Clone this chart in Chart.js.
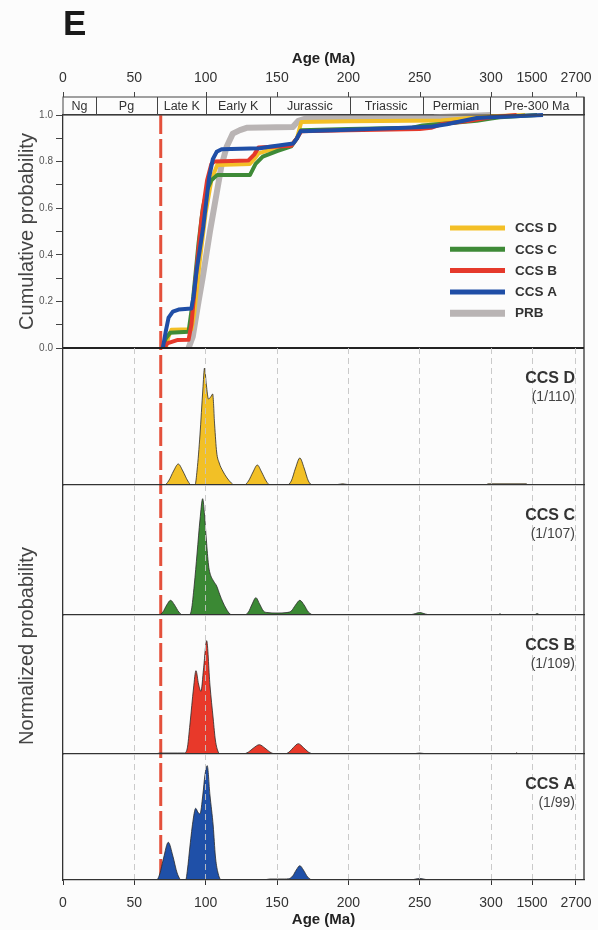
<!DOCTYPE html>
<html>
<head>
<meta charset="utf-8">
<title>Detrital zircon age distributions</title>
<script src="https://cdn.jsdelivr.net/npm/chart.js@4.4.1/dist/chart.umd.min.js"></script>
<style>
  html, body { margin: 0; padding: 0; background: #fcfcfc; }
  #fig { position: relative; width: 598px; height: 930px; background: #fcfcfc; }
  #fig canvas { position: absolute; left: 0; top: 0; }
</style>
</head>
<body>
<div id="fig">
  <canvas id="cum" width="598" height="930"></canvas>
  <canvas id="pD" width="598" height="930"></canvas>
  <canvas id="pC" width="598" height="930"></canvas>
  <canvas id="pB" width="598" height="930"></canvas>
  <canvas id="pA" width="598" height="930"></canvas>
</div>
<script>
// ---- data ----
var ageTicks = [0, 50, 100, 150, 200, 250, 300, 1500, 2700];
var periodNames = ['Ng', 'Pg', 'Late K', 'Early K', 'Jurassic', 'Triassic', 'Permian', 'Pre-300 Ma'];
var periodEdges = [0, 23, 66, 100.5, 145, 201, 252, 299, 2918];
var maxDepositAge = 68.5;

var sampleNames = ['CCS D', 'CCS C', 'CCS B', 'CCS A', 'PRB'];
var sampleCounts = ['(1/110)', '(1/107)', '(1/109)', '(1/99)'];

// cumulative probability: [age Ma, probability]
var cumD = [[72,0],[74,0.05],[76,0.078],[90,0.08],[92,0.15],[96,0.38],[100,0.58],[104,0.72],[108,0.785],[131,0.79],[134,0.81],[137,0.835],[145,0.85],[160,0.87],[164,0.9],[167,0.97],[200,0.973],[265,0.976],[290,0.99],[300,0.995],[1300,1]];
var cumC = [[70,0],[72,0.04],[75,0.065],[88,0.07],[91,0.2],[95,0.45],[98,0.6],[101,0.68],[104,0.72],[108,0.742],[131,0.742],[135,0.79],[140,0.821],[150,0.845],[160,0.865],[164,0.9],[167,0.935],[200,0.94],[245,0.945],[252,0.955],[290,0.975],[300,0.985],[560,0.99],[1640,1]];
var cumB = [[71,0],[73,0.02],[80,0.034],[88,0.035],[90,0.1],[93,0.3],[97,0.55],[101,0.72],[104,0.79],[106,0.8],[130,0.805],[134,0.83],[137,0.86],[160,0.868],[164,0.9],[167,0.93],[200,0.935],[250,0.94],[258,0.945],[265,0.96],[285,0.975],[300,0.99],[1050,1]];
var cumA = [[70,0],[72,0.07],[74,0.13],[77,0.156],[81,0.165],[90,0.17],[91.5,0.22],[93.7,0.335],[98.3,0.52],[102.5,0.735],[105,0.81],[107.7,0.842],[111.2,0.853],[138,0.857],[146,0.865],[161.4,0.878],[164,0.9],[166.5,0.93],[190,0.935],[240,0.945],[259,0.951],[269,0.96],[290,0.987],[300,0.99],[1800,1]];
var cumPRB = [[88,0],[91,0.05],[95,0.2],[98,0.306],[103,0.5],[107.7,0.664],[111,0.78],[114.7,0.864],[119,0.92],[124,0.935],[128.7,0.945],[161,0.948],[165,0.975],[170,0.985],[200,0.987],[260,0.99],[300,1]];

// normalized probability density: [age Ma, relative height]
var pdpD = [[0,0],[71,0],[74,0.04],[77.5,0.14],[80.8,0.21],[84,0.14],[87.5,0.04],[90,0],
  [92.5,0],[94,0.15],[96,0.5],[98,0.95],[99.2,1.17],[100.5,1.0],[102,0.86],[103.5,0.88],[104.9,0.91],[106.3,0.6],[107.7,0.33],[109.5,0.22],[112,0.14],[115,0.07],[118,0.02],[120,0],
  [127,0],[130,0.04],[133.2,0.13],[136.2,0.2],[139.2,0.13],[142.4,0.04],[145,0],
  [157,0],[160,0.04],[163,0.17],[166,0.27],[169,0.17],[172,0.04],[175,0],
  [190,0],[196,0.012],[202,0],
  [296,0],[298,0.012],[1340,0.012],[1350,0],[2918,0]];
var pdpC = [[0,0],[67,0],[70,0.03],[72.7,0.1],[75.4,0.147],[78.2,0.1],[81.2,0.03],[84,0],
  [88,0],[90,0.05],[92,0.3],[94,0.62],[96,0.95],[97.9,1.163],[99.2,1.0],[100.5,0.75],[102,0.5],[103,0.42],[105.5,0.34],[107.7,0.29],[110,0.2],[112,0.13],[114.5,0.06],[117,0.01],[119,0],
  [127,0],[130,0.03],[132.6,0.11],[135.2,0.173],[137.8,0.11],[140.5,0.04],[143,0.025],[150,0.02],[157,0.025],[160,0.04],[163,0.1],[166,0.147],[169,0.1],[172,0.03],[176,0],
  [242,0],[246,0.01],[250,0.025],[254,0.01],[258,0],
  [540,0],[563,0.015],[590,0],
  [1560,0],[1640,0.015],[1720,0],[2918,0]];
var pdpB = [[0,0],[64,0],[68,0.01],[80,0.01],[85,0.01],[87,0.05],[89,0.3],[91.5,0.66],[93.2,0.833],[95,0.7],[96.7,0.627],[98.5,0.85],[100.7,1.133],[103,0.69],[105.3,0.35],[106.8,0.14],[108.8,0.02],[110,0],
  [126,0],[130,0.02],[133.5,0.06],[137.6,0.093],[141.5,0.06],[145,0.02],[149,0],
  [155,0],[158.5,0.02],[161.5,0.065],[164.9,0.103],[168.5,0.065],[172,0.02],[176,0],
  [244,0],[250,0.01],[256,0],
  [1000,0],[1050,0.012],[1100,0],[2918,0]];
var pdpA = [[0,0],[65.5,0],[67.8,0.06],[70.5,0.22],[73.8,0.377],[77,0.24],[80,0.07],[83,0],
  [86,0],[87.2,0.1],[89,0.34],[91.3,0.61],[93,0.717],[94.5,0.68],[96,0.66],[98,0.85],[99.5,1.05],[101.1,1.143],[103,0.85],[105.3,0.54],[106.8,0.24],[108.5,0.08],[111,0],
  [140,0],[145,0.01],[155,0.01],[158,0.012],[161,0.04],[163.5,0.1],[166,0.143],[168.5,0.1],[171.5,0.03],[175,0],
  [243,0],[250,0.015],[257,0],[2918,0]];

// ---- layout & style ----
var FONT = "'Liberation Sans', Arial, Helvetica, sans-serif";
var W = 598, H = 930, PLOT_L = 63, PLOT_R = 584;
var CUM_TOP = 115, CUM_BOT = 348, TITLE_H = 43;
var panelTops = [348, 485, 615, 754];
var panelBots = [485, 615, 754, 880];
var lineColors = ['#f3bf26', '#3e8a37', '#e5392b', '#1f4ea6', '#b9b4b4'];
var fillColors = ['#f2c026', '#3b8934', '#e8392a', '#1f50a8'];

Chart.defaults.font.family = FONT;
Chart.defaults.color = '#333';
Chart.defaults.animation = false;
Chart.defaults.events = [];

// broken age axis: 0-300 Ma linear, then compressed 300-1500 and 1500-2700
var AGE_BREAKS = [0, 300, 1500, 2700, 2918];
var AGE_FRACS = [0, 0.8215, 0.9002, 0.9846, 1];
function ageToFrac(v) {
  for (var i = 1; i < AGE_BREAKS.length; i++) {
    if (v <= AGE_BREAKS[i] || i === AGE_BREAKS.length - 1) {
      var a = AGE_BREAKS[i - 1], b = AGE_BREAKS[i];
      return AGE_FRACS[i - 1] + (v - a) / (b - a) * (AGE_FRACS[i] - AGE_FRACS[i - 1]);
    }
  }
}
function fracToAge(f) {
  for (var i = 1; i < AGE_FRACS.length; i++) {
    if (f <= AGE_FRACS[i] || i === AGE_FRACS.length - 1) {
      var a = AGE_FRACS[i - 1], b = AGE_FRACS[i];
      return AGE_BREAKS[i - 1] + (f - a) / (b - a) * (AGE_BREAKS[i] - AGE_BREAKS[i - 1]);
    }
  }
}
class AgeScale extends Chart.LinearScale {
  buildTicks() { return ageTicks.map(function (v) { return { value: v }; }); }
  getPixelForValue(v) { return this.getPixelForDecimal(ageToFrac(v)); }
  getValueForPixel(p) { return fracToAge(this.getDecimalForPixel(p)); }
}
AgeScale.id = 'age';
AgeScale.defaults = Chart.LinearScale.defaults;
Chart.register(AgeScale);

function toXY(pairs) {
  return pairs.map(function (p) { return { x: p[0], y: p[1] }; });
}

// fixed axis sizes so every panel shares the same plot rectangle
function fixSize(prop, size) {
  return function (s) {
    s[prop] = size;
    s.paddingLeft = s.paddingRight = s.paddingTop = s.paddingBottom = 0;
  };
}

// ---- cumulative panel ----
var cumDecor = {
  id: 'cumDecor',
  beforeDatasetsDraw: function (chart) {
    var ctx = chart.ctx, a = chart.chartArea;
    var x = chart.scales.x.getPixelForValue(maxDepositAge);
    ctx.save();
    ctx.strokeStyle = '#e4503b';
    ctx.lineWidth = 3;
    ctx.setLineDash([19, 5]);
    ctx.beginPath();
    ctx.moveTo(x, a.top);
    ctx.lineTo(x, panelBots[3] - 4);
    ctx.stroke();
    ctx.restore();
  },
  afterDraw: function (chart) {
    var ctx = chart.ctx, a = chart.chartArea, xs = chart.scales.x;
    var bandTop = a.top - 18;
    ctx.save();
    // period band
    ctx.strokeStyle = '#444';
    ctx.lineWidth = 1;
    ctx.strokeRect(a.left, bandTop, a.right - a.left, a.top - bandTop);
    ctx.beginPath();
    for (var i = 1; i < periodEdges.length - 1; i++) {
      var px = Math.round(xs.getPixelForValue(periodEdges[i])) + 0.5;
      ctx.moveTo(px, bandTop);
      ctx.lineTo(px, a.top);
    }
    ageTicks.forEach(function (t) {
      var px = Math.round(xs.getPixelForValue(t)) + 0.5;
      ctx.moveTo(px, bandTop - 5);
      ctx.lineTo(px, bandTop);
    });
    ctx.stroke();
    ctx.fillStyle = '#333';
    ctx.font = '12.5px ' + FONT;
    ctx.textAlign = 'center';
    ctx.textBaseline = 'middle';
    for (var j = 0; j < periodNames.length; j++) {
      var cx = (xs.getPixelForValue(periodEdges[j]) + xs.getPixelForValue(periodEdges[j + 1])) / 2;
      ctx.fillText(periodNames[j], cx, bandTop + 9.5);
    }
    // frame
    ctx.lineWidth = 1.3;
    ctx.strokeStyle = '#333';
    ctx.beginPath();
    ctx.moveTo(a.right, bandTop);
    ctx.lineTo(a.right, a.bottom);
    ctx.stroke();
    ctx.lineWidth = 2;
    ctx.strokeStyle = '#222';
    ctx.beginPath();
    ctx.moveTo(a.left, a.bottom);
    ctx.lineTo(a.right, a.bottom);
    ctx.stroke();
    // legend
    ctx.textAlign = 'left';
    ctx.font = 'bold 13.5px ' + FONT;
    chart.data.datasets.forEach(function (ds, k) {
      var y = 228 + k * 21.3;
      ctx.strokeStyle = ds.borderColor;
      ctx.lineWidth = ds.borderWidth + 1;
      ctx.beginPath();
      ctx.moveTo(450, y);
      ctx.lineTo(505, y);
      ctx.stroke();
      ctx.fillStyle = '#333';
      ctx.fillText(ds.label, 515, y + 0.5);
    });
    ctx.restore();
  }
};

var cumSeries = [cumD, cumC, cumB, cumA, cumPRB];
var drawOrder = [3, 2, 1, 0, 4];
new Chart(document.getElementById('cum'), {
  type: 'line',
  data: {
    datasets: cumSeries.map(function (s, i) {
      return {
        label: sampleNames[i],
        data: toXY(s),
        borderColor: lineColors[i],
        borderWidth: i === 4 ? 6 : 4,
        borderJoinStyle: 'round',
        pointRadius: 0,
        tension: 0,
        fill: false,
        clip: 6,
        order: drawOrder[i]
      };
    })
  },
  options: {
    responsive: false,
    layout: { padding: { left: 0, right: W - PLOT_R, top: 0, bottom: H - CUM_BOT } },
    plugins: {
      legend: { display: false },
      tooltip: { enabled: false },
      title: {
        display: true, text: 'E', align: 'start', fullSize: false, color: '#1a1a1a',
        font: { size: 35, weight: 'bold', lineHeight: 1 },
        padding: { top: 8, bottom: 0 }
      }
    },
    scales: {
      x: {
        type: 'age', position: 'top', min: 0, max: 2918,
        afterFit: fixSize('height', CUM_TOP - TITLE_H),
        grid: { display: false, drawTicks: false },
        border: { display: true, color: '#333', width: 1.3 },
        ticks: {
          autoSkip: false, maxRotation: 0, padding: 28, color: '#333',
          font: { size: 14 },
          callback: function (v) { return String(v); }
        },
        title: {
          display: true, text: 'Age (Ma)', color: '#222',
          font: { size: 15, weight: 'bold' },
          padding: { top: 7, bottom: 0 }
        }
      },
      y: {
        min: 0, max: 1,
        afterFit: fixSize('width', PLOT_L),
        grid: { drawOnChartArea: false, tickLength: 7, tickColor: '#444' },
        border: { color: '#333', width: 1.3 },
        ticks: {
          stepSize: 0.1, autoSkip: false, padding: 3, color: '#555',
          font: { size: 10 },
          callback: function (v) { return Math.round(v * 10) % 2 === 0 ? v.toFixed(1) : ''; }
        },
        title: {
          display: true, text: 'Cumulative probability', color: '#444',
          font: { size: 20 },
          padding: { top: 15, bottom: 0 }
        }
      }
    }
  },
  plugins: [cumDecor]
});

// ---- probability density panels ----
function panelDecor(idx) {
  return {
    id: 'panelDecor',
    afterDraw: function (chart) {
      var ctx = chart.ctx, a = chart.chartArea;
      ctx.save();
      ctx.strokeStyle = '#333';
      ctx.lineWidth = 1.3;
      ctx.beginPath();
      ctx.moveTo(a.right, a.top);
      ctx.lineTo(a.right, a.bottom);
      ctx.stroke();
      ctx.textAlign = 'right';
      ctx.textBaseline = 'middle';
      ctx.fillStyle = '#333';
      ctx.font = 'bold 16px ' + FONT;
      ctx.fillText(sampleNames[idx], a.right - 9, a.top + 31);
      ctx.fillStyle = '#444';
      ctx.font = '14px ' + FONT;
      ctx.fillText(sampleCounts[idx], a.right - 9, a.top + 49);
      if (idx === 2) {
        ctx.translate(27, 646);
        ctx.rotate(-Math.PI / 2);
        ctx.textAlign = 'center';
        ctx.font = '20px ' + FONT;
        ctx.fillText('Normalized probability', 0, 0);
      }
      ctx.restore();
    }
  };
}

function panelChart(canvasId, idx, series) {
  var top = panelTops[idx], bot = panelBots[idx], isLast = idx === 3;
  return new Chart(document.getElementById(canvasId), {
    type: 'line',
    data: {
      datasets: [{
        label: sampleNames[idx],
        data: toXY(series),
        fill: 'origin',
        backgroundColor: fillColors[idx],
        borderColor: '#2a2a2a',
        borderWidth: 0.8,
        pointRadius: 0,
        cubicInterpolationMode: 'monotone'
      }]
    },
    options: {
      responsive: false,
      layout: { padding: { left: 0, right: W - PLOT_R, top: top, bottom: isLast ? 0 : H - bot } },
      plugins: { legend: { display: false }, tooltip: { enabled: false } },
      scales: {
        x: {
          type: 'age', position: 'bottom', min: 0, max: 2918,
          afterFit: fixSize('height', isLast ? H - bot : 0),
          grid: {
            z: 1, lineWidth: 1,
            color: function (c) { return c.tick && c.tick.value > 0 ? 'rgba(196,196,196,0.9)' : 'rgba(0,0,0,0)'; },
            drawTicks: isLast, tickLength: 5, tickColor: '#333'
          },
          border: { display: true, color: '#333', width: 1.3, dash: [6, 4], z: 1 },
          ticks: {
            display: isLast, autoSkip: false, maxRotation: 0, padding: 10, color: '#333',
            font: { size: 14 },
            callback: function (v) { return String(v); }
          },
          title: {
            display: isLast, text: 'Age (Ma)', color: '#222',
            font: { size: 15, weight: 'bold' },
            padding: { top: 0, bottom: 1 }
          }
        },
        y: {
          min: 0, max: (bot - top) / 100,
          afterFit: fixSize('width', PLOT_L),
          grid: { display: false },
          border: { display: true, color: '#333', width: 1.3 },
          ticks: { display: false }
        }
      }
    },
    plugins: [panelDecor(idx)]
  });
}

panelChart('pD', 0, pdpD);
panelChart('pC', 1, pdpC);
panelChart('pB', 2, pdpB);
panelChart('pA', 3, pdpA);
</script>
</body>
</html>
